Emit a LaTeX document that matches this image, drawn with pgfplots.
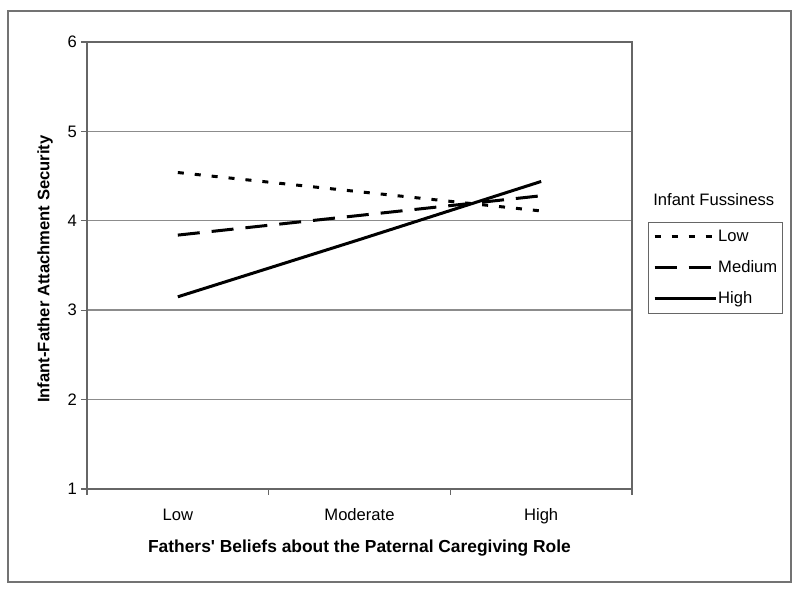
\documentclass[border=0pt]{standalone}
\usepackage{fontspec}
\setmainfont{Liberation Sans}[Ligatures=TeXOff]
\usepackage{pgfplots}
\pgfplotsset{compat=1.18}
\begin{document}
\begin{tikzpicture}
\path (0pt,0pt) rectangle (400pt,297pt);
\draw[black!55, line width=0.7pt] (4pt,6pt) rectangle (395.5pt,291.5pt);
\begin{axis}[
  at={(43.5pt,52.5pt)}, anchor=south west,
  scale only axis, width=272.5pt, height=223.5pt,
  clip=false,
  font=\fontsize{8.3}{10}\selectfont,
  /pgf/number format/assume math mode=true,
  xmin=-0.5, xmax=2.5, ymin=1, ymax=6,
  xtick={0,1,2}, xticklabels={Low,Moderate,High},
  minor xtick={-0.5,0.5,1.5,2.5},
  ytick={1,2,3,4,5,6},
  major x tick style={draw=none},
  minor x tick style={black!60, line width=0.6pt},
  major y tick style={black!60, line width=0.6pt},
  tick align=outside, major tick length=3pt, minor tick length=3pt,
  xtick pos=bottom, ytick pos=left,
  ymajorgrids, grid style={black!45, line width=0.7pt},
  axis line style={black!60, line width=0.7pt},
  xticklabel style={anchor=base, yshift=-13pt},
  yticklabel style={xshift=1.5pt},
  xlabel={\bfseries\fontsize{8.7}{10}\selectfont Fathers' Beliefs about the Paternal Caregiving Role},
  ylabel={\bfseries\fontsize{8.3}{10}\selectfont Infant-Father Attachment Security},
  xlabel style={at={(axis description cs:0.5,-0.132)}, anchor=center},
  ylabel style={at={(axis description cs:-0.077,0.492)}, anchor=center},
  legend style={draw=black!60, line width=0.6pt, at={(1.0294,0.597)}, anchor=north west,
    font=\fontsize{8.3}{10}\selectfont, row sep=7pt, inner xsep=2.2pt, inner ysep=3pt,
    nodes={inner xsep=0.6pt, inner ysep=0.5pt}},
  legend cell align=left,
  legend image code/.code={\draw[#1] (0pt,0pt) -- (30.5pt,0pt);},
]
\addplot[black, line width=1.5pt, dash pattern=on 3pt off 5.5pt] coordinates {(0,4.54) (1,4.325) (2,4.11)};
\addlegendentry{Low}
\addplot[black, line width=1.5pt, dash pattern=on 11pt off 6pt] coordinates {(0,3.84) (1,4.06) (2,4.28)};
\addlegendentry{Medium}
\addplot[black, line width=1.5pt] coordinates {(0,3.15) (1,3.79) (2,4.44)};
\addlegendentry{High}
\node[anchor=center] at (axis description cs:1.150,0.6465) {Infant Fussiness};
\end{axis}
\end{tikzpicture}
\end{document}
